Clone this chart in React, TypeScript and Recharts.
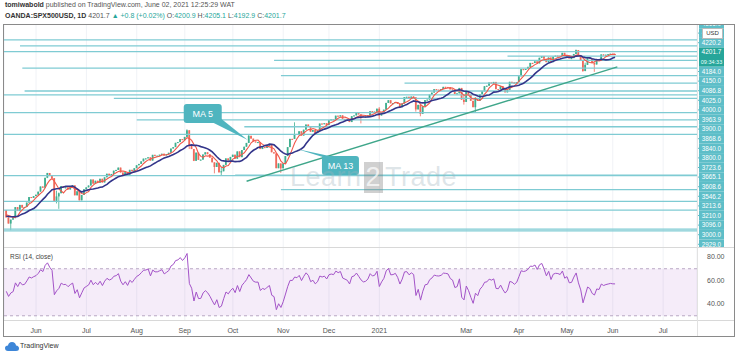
import React from 'react';
import {
  Bar,
  CartesianGrid,
  ComposedChart,
  Line,
  ReferenceArea,
  ReferenceDot,
  ReferenceLine,
  XAxis,
  YAxis
} from 'recharts';

// daily closes, SPX500USD (only used to warm up the MA / RSI)
const warmupCloses = [2846, 2783, 2800, 2875, 2823, 2737, 2799, 2798, 2837, 2878, 2863, 2939, 2912, 2830, 2842, 2868, 2848, 2881, 2930, 2930];

const may2020 = [2870, 2820, 2852, 2864, 2954, 2922, 2972, 2949, 2955, 2991, 3036, 3029, 3044];
const jun2020 = [3055, 3080, 3122, 3112, 3193, 3232, 3207, 3190, 3002, 3041, 3067, 3125, 3113, 3115, 3097, 3117, 3131, 3050, 3083, 3009, 3053, 3100];
const jul2020 = [3115, 3130, 3179, 3145, 3169, 3152, 3185, 3155, 3197, 3226, 3215, 3224, 3251, 3257, 3276, 3236, 3215, 3239, 3218, 3258, 3246, 3271];
const aug2020 = [3295, 3306, 3327, 3349, 3351, 3360, 3333, 3380, 3373, 3373, 3381, 3389, 3375, 3385, 3397, 3431, 3443, 3478, 3484, 3508, 3500];
const sep2020 = [3526, 3580, 3455, 3427, 3331, 3398, 3339, 3341, 3383, 3401, 3385, 3357, 3319, 3281, 3315, 3237, 3246, 3298, 3351, 3335, 3363];
const oct2020 = [3381, 3348, 3408, 3361, 3419, 3446, 3477, 3535, 3512, 3489, 3483, 3484, 3427, 3443, 3436, 3453, 3465, 3401, 3391, 3271, 3310, 3270];
const nov2020 = [3310, 3370, 3443, 3510, 3509, 3550, 3545, 3572, 3537, 3585, 3627, 3610, 3568, 3582, 3558, 3578, 3635, 3629, 3638, 3622];
const dec2020 = [3662, 3669, 3666, 3699, 3692, 3702, 3673, 3668, 3663, 3647, 3695, 3701, 3722, 3709, 3695, 3687, 3690, 3703, 3735, 3727, 3732, 3756];
const jan2021 = [3700, 3726, 3748, 3803, 3825, 3799, 3801, 3810, 3795, 3768, 3798, 3851, 3853, 3841, 3855, 3849, 3750, 3787, 3714];
const feb2021 = [3774, 3826, 3830, 3871, 3887, 3915, 3911, 3910, 3916, 3934, 3933, 3931, 3913, 3907, 3876, 3881, 3925, 3829, 3811];
const mar2021 = [3901, 3870, 3820, 3768, 3842, 3821, 3875, 3898, 3939, 3943, 3969, 3963, 3974, 3915, 3913, 3940, 3911, 3889, 3909, 3975, 3971, 3959, 3973];
const apr2021 = [4020, 4078, 4074, 4080, 4097, 4129, 4128, 4142, 4125, 4171, 4185, 4163, 4135, 4173, 4135, 4180, 4188, 4187, 4183, 4211, 4181];
const may2021 = [4192, 4165, 4168, 4202, 4233, 4189, 4152, 4063, 4113, 4174, 4163, 4128, 4116, 4160, 4156, 4198, 4189, 4196, 4200, 4204];
const jun2021 = [4202, 4201.7];

// Feb label is hidden on the original time scale
const months = [
  { key: 'may20', label: '', closes: may2020 },
  { key: 'jun20', label: 'Jun', closes: jun2020 },
  { key: 'jul20', label: 'Jul', closes: jul2020 },
  { key: 'aug20', label: 'Aug', closes: aug2020 },
  { key: 'sep20', label: 'Sep', closes: sep2020 },
  { key: 'oct20', label: 'Oct', closes: oct2020 },
  { key: 'nov20', label: 'Nov', closes: nov2020 },
  { key: 'dec20', label: 'Dec', closes: dec2020 },
  { key: 'jan21', label: '2021', closes: jan2021 },
  { key: 'feb21', label: '', closes: feb2021 },
  { key: 'mar21', label: 'Mar', closes: mar2021 },
  { key: 'apr21', label: 'Apr', closes: apr2021 },
  { key: 'may21', label: 'May', closes: may2021 },
  { key: 'jun21', label: 'Jun', closes: jun2021 }
];
const jun2021Sessions = 22;
const futureLabel = 'Jul';

// notable wicks: [month, session in month, low, high]
const wicks: [string, number, number, number][] = [
  ['may20', 2, 2766, 2852],
  ['jun20', 5, 3190, 3233],
  ['jun20', 8, 2999, 3190],
  ['jun20', 9, 2984, 3088],
  ['jun20', 10, 2940, 3073],
  ['sep20', 1, 3525, 3588],
  ['sep20', 2, 3427, 3580],
  ['sep20', 4, 3329, 3427],
  ['sep20', 13, 3229, 3319],
  ['sep20', 16, 3209, 3279],
  ['oct20', 7, 3477, 3549],
  ['oct20', 21, 3233, 3304],
  ['nov20', 5, 3509, 3645],
  ['dec20', 14, 3636, 3709],
  ['jan21', 0, 3663, 3769],
  ['jan21', 16, 3732, 3849],
  ['jan21', 18, 3694, 3787],
  ['feb21', 18, 3789, 3861],
  ['mar21', 4, 3723, 3851],
  ['may21', 4, 4202, 4238],
  ['may21', 7, 4056, 4152],
  ['may21', 8, 4061, 4131],
  ['may21', 12, 4056, 4134]
];

// horizontal levels drawn on the chart: [price, first session]
const levels: [number, number][] = [
  [4316, -1], [4267, 6], [4220.2, -1], [4184, 219], [4150, 117], [4086.8, 7],
  [4025, 120], [3963.9, 174], [3900, 8], [3868.6, -1], [3840, 47], [3723.6, -1],
  [3665.1, 57], [3608.6, 104], [3546.2, -1], [3213.6, 100], [3210, -1], [3096, 120],
  [3000, -1], [2929, -1], [2775, -1], [2760, -1]
];

// price scale tags, top to bottom
const priceTags = [4316, 4267, 4220.2, 4201.7, 4184, 4150, 4086.8, 4025, 4000, 3963.9, 3900, 3868.6,
  3840, 3800, 3723.6, 3665.1, 3608.6, 3546.2, 3213.6, 3210, 3096, 3000, 2929];
const lastPrice = 4201.7;
const lastTime = '09:34:33';

const trendline = [{ x: 105, y: 3165 }, { x: 267, y: 4096 }];

const X_DOMAIN: [number, number] = [-1, 301.8];
const UP = '#3fae8f';
const DOWN = '#ef6a5c';
const LEVEL = '#7fcbd3';
const TAG = '#5ebec8';
const FONT = '"Liberation Sans", Arial, sans-serif';

const allCloses = [...warmupCloses, ...months.flatMap((m) => m.closes)];

function sma(n: number, k: number) {
  if (k < n - 1) return null;
  let s = 0;
  for (let j = k - n + 1; j <= k; j++) s += allCloses[j];
  return s / n;
}

function wilderRsi(values: number[], period: number) {
  const out: (number | null)[] = values.map(() => null);
  let gain = 0;
  let loss = 0;
  for (let k = 1; k <= period; k++) {
    const d = values[k] - values[k - 1];
    if (d > 0) gain += d;
    else loss -= d;
  }
  gain /= period;
  loss /= period;
  out[period] = 100 - 100 / (1 + gain / loss);
  for (let k = period + 1; k < values.length; k++) {
    const d = values[k] - values[k - 1];
    gain = (gain * (period - 1) + Math.max(d, 0)) / period;
    loss = (loss * (period - 1) + Math.max(-d, 0)) / period;
    out[k] = loss === 0 ? 100 : 100 - 100 / (1 + gain / loss);
  }
  return out;
}

const rsiValues = wilderRsi(allCloses, 14);

const data: any[] = [];
const monthTicks: number[] = [];
const tickLabels: Record<number, string> = {};
months.forEach((m) => {
  if (m.label) {
    monthTicks.push(data.length);
    tickLabels[data.length] = m.label;
  }
  m.closes.forEach((c, pos) => {
    const i = data.length;
    const k = warmupCloses.length + i;
    const o = allCloses[k - 1];
    const w = wicks.find((x) => x[0] === m.key && x[1] === pos);
    const h = Math.max(o, c, w ? w[3] : -Infinity);
    const l = Math.min(o, c, w ? w[2] : Infinity);
    data.push({ i, o, c, h, l, range: [l, h], ma5: sma(5, k), ma13: sma(13, k), rsi: rsiValues[k] });
  });
});
const futureTick = data.length - jun2021.length + jun2021Sessions;
monthTicks.push(futureTick);
tickLabels[futureTick] = futureLabel;

const Candle = (props: any) => {
  const { x, y, width, height, payload } = props;
  if (!payload || x == null) return null;
  const { o, c, h, l } = payload;
  const cx = x + width / 2;
  const per = h - l > 0 ? height / (h - l) : 0;
  const top = y + (h - Math.max(o, c)) * per;
  const bodyH = Math.max(1, Math.abs(o - c) * per);
  const color = c >= o ? UP : DOWN;
  return (
    <g>
      <line x1={cx} x2={cx} y1={y} y2={y + Math.max(height, 1)} stroke={color} strokeWidth={0.8} />
      <rect x={cx - 0.9} y={top} width={1.8} height={bodyH} fill={color} />
    </g>
  );
};

const PriceTag = (props: any) => {
  const { payload } = props;
  const row = priceTags.indexOf(payload.value);
  if (row < 0) return null;
  const cy = -0.5 + row * 9.6 + (row > 3 ? 9.6 : 0);
  if (payload.value === lastPrice) {
    return (
      <g>
        <rect x={695} y={cy - 4.8} width={25} height={19.2} fill="#26a69a" />
        <text x={707.5} y={cy + 2} textAnchor="middle" fontSize={6.5} fill="#fff" fontFamily={FONT}>{lastPrice.toFixed(1)}</text>
        <text x={707.5} y={cy + 11.3} textAnchor="middle" fontSize={5.5} fill="#e8fffb" fontFamily={FONT}>{lastTime}</text>
      </g>
    );
  }
  return (
    <g>
      <line x1={693} x2={695} y1={cy} y2={cy} stroke={TAG} />
      <rect x={695} y={cy - 4.8} width={25} height={9.6} fill={TAG} />
      <text x={707.5} y={cy + 2.2} textAnchor="middle" fontSize={6.3} fill="#fff" fontFamily={FONT}>{payload.value.toFixed(1)}</text>
    </g>
  );
};

const Callout = ({ cx, cy, text, bx, by, w }: any) => {
  if (cx == null) return null;
  const x0 = cx + bx;
  const y0 = cy + by;
  const near = bx < 0 ? [x0 + w - 14, y0 + 16] : [x0 + 4, y0 + 2];
  const far = bx < 0 ? [x0 + w - 4, y0 + 12] : [x0 + 12, y0 + 1];
  return (
    <g>
      <polygon points={`${cx},${cy} ${near[0]},${near[1]} ${far[0]},${far[1]}`} fill="#4fb5bf" />
      <rect x={x0} y={y0} width={w} height={19} rx={3} fill="#4fb5bf" />
      <text x={x0 + w / 2} y={y0 + 12.5} textAnchor="middle" fontSize={9} fill="#fff" fontFamily={FONT}>{text}</text>
    </g>
  );
};

export default function App() {
  return (
    <div style={{ position: 'absolute', left: 0, top: 0, width: 740, height: 357, background: '#fff', fontFamily: FONT, overflow: 'hidden' }}>
      <div style={{ position: 'absolute', left: 5, top: 1, fontSize: 7, color: '#555', whiteSpace: 'nowrap' }}>
        <b style={{ color: '#333' }}>tomiwabold</b> published on TradingView.com, June 02, 2021 12:25:29 WAT
      </div>
      <div style={{ position: 'absolute', left: 5, top: 12, fontSize: 7, color: '#555', whiteSpace: 'nowrap' }}>
        <b style={{ color: '#333' }}>OANDA:SPX500USD, 1D</b> 4201.7 <span style={{ color: '#26a69a' }}>▲ +0.8 (+0.02%)</span>{' '}
        O:<span style={{ color: '#26a69a' }}>4200.9</span> H:<span style={{ color: '#26a69a' }}>4205.1</span>{' '}
        L:<span style={{ color: '#26a69a' }}>4192.9</span> C:<span style={{ color: '#26a69a' }}>4201.7</span>
      </div>

      <div style={{ position: 'absolute', left: 4, top: 24 }}>
        <ComposedChart width={731} height={223} data={data} margin={{ top: 0, right: 0, left: 0, bottom: 0 }}>
          <CartesianGrid horizontal={false} stroke="#f0f2f6" />
          <XAxis dataKey="i" type="number" domain={X_DOMAIN} allowDataOverflow ticks={monthTicks} hide />
          <YAxis
            orientation="right"
            width={38}
            domain={[2629, 4446]}
            allowDataOverflow
            ticks={priceTags}
            interval={0}
            axisLine={false}
            tickLine={false}
            tick={<PriceTag />}
          />
          {levels.map(([p, start]) => (
            <ReferenceLine
              key={p}
              segment={[{ x: Math.max(start, X_DOMAIN[0]), y: p }, { x: X_DOMAIN[1], y: p }]}
              stroke={LEVEL}
              strokeWidth={1.3}
              ifOverflow="visible"
            />
          ))}
          <ReferenceLine segment={trendline} stroke="#3fa68a" strokeWidth={1.4} ifOverflow="visible" />
          <Bar dataKey="range" barSize={2} shape={<Candle />} isAnimationActive={false} />
          <Line type="linear" dataKey="ma5" stroke="#f0584a" strokeWidth={1.1} dot={false} isAnimationActive={false} />
          <Line type="linear" dataKey="ma13" stroke="#33358a" strokeWidth={1.6} dot={false} isAnimationActive={false} />
          <ReferenceDot x={105.5} y={3500} r={0} ifOverflow="visible"
            shape={(p: any) => <Callout cx={p.cx} cy={p.cy} text="MA 5" bx={-64} by={-36} w={38} />} />
          <ReferenceDot x={127} y={3427} r={0} ifOverflow="visible"
            shape={(p: any) => <Callout cx={p.cx} cy={p.cy} text="MA 13" bx={25} by={7} w={37} />} />
        </ComposedChart>
      </div>

      <div style={{ position: 'absolute', left: 290, top: 162, fontSize: 27, color: 'rgba(160,180,190,0.35)', whiteSpace: 'nowrap', letterSpacing: 0.5 }}>
        Learn<span style={{ display: 'inline-block', background: 'rgba(120,120,120,0.35)', color: 'rgba(255,255,255,0.7)', padding: '0 2px', margin: '0 2px' }}>2</span>Trade
      </div>

      <div style={{ position: 'absolute', left: 702, top: 28, width: 19, height: 9, border: '1px solid #bbb', background: '#fff', fontSize: 6, lineHeight: '9px', textAlign: 'center', color: '#333' }}>USD</div>

      <div style={{ position: 'absolute', left: 4, top: 247 }}>
        <ComposedChart width={731} height={89} data={data} margin={{ top: 0, right: 0, left: 0, bottom: 0 }}>
          <CartesianGrid horizontal={false} stroke="#f0f2f6" />
          <ReferenceArea x1={X_DOMAIN[0]} x2={X_DOMAIN[1]} y1={30} y2={70} fill="#a040c8" fillOpacity={0.1} stroke="none" ifOverflow="visible" />
          <ReferenceLine y={70} stroke="#b9a8c4" strokeDasharray="3 3" />
          <ReferenceLine y={30} stroke="#b9a8c4" strokeDasharray="3 3" />
          <XAxis
            dataKey="i"
            type="number"
            domain={X_DOMAIN}
            allowDataOverflow
            ticks={monthTicks}
            tickFormatter={(v: number) => tickLabels[v] ?? ''}
            height={16}
            axisLine={false}
            tickLine={false}
            tick={{ fill: '#555', fontSize: 7, fontFamily: FONT }}
            tickMargin={2}
          />
          <YAxis
            orientation="right"
            width={38}
            domain={[26.4, 88.5]}
            ticks={[40, 60, 80]}
            tickFormatter={(v: number) => v.toFixed(2)}
            axisLine={false}
            tickLine={false}
            tick={{ fill: '#555', fontSize: 7, fontFamily: FONT, textAnchor: 'start' }}
            tickMargin={4}
          />
          <Line type="linear" dataKey="rsi" stroke="#a353c8" strokeWidth={1} dot={false} isAnimationActive={false} />
        </ComposedChart>
      </div>
      <div style={{ position: 'absolute', left: 10, top: 253, fontSize: 6.5, color: '#444' }}>RSI (14, close)</div>

      <div style={{ position: 'absolute', left: 4, top: 247, width: 730, height: 1, background: '#d8d8d8' }} />
      <div style={{ position: 'absolute', left: 4, top: 320, width: 730, height: 1, background: '#d8d8d8' }} />
      <div style={{ position: 'absolute', left: 697, top: 24, width: 1, height: 312, background: '#e2e2e2' }} />
      <div style={{ position: 'absolute', left: 3, top: 24, width: 730, height: 311, border: '1px solid #8a8a8a', pointerEvents: 'none' }} />

      <svg style={{ position: 'absolute', left: 5, top: 341 }} width={14} height={11}>
        <path d="M3 10 Q0 10 0 7 Q0 4.5 3 4.5 Q3.5 1 7 1 Q10.5 1 11 4.5 Q14 4.8 14 7.5 Q14 10 11 10 Z" fill="#3d86d8" />
      </svg>
      <div style={{ position: 'absolute', left: 20, top: 342, fontSize: 7, color: '#333' }}>TradingView</div>
    </div>
  );
}
